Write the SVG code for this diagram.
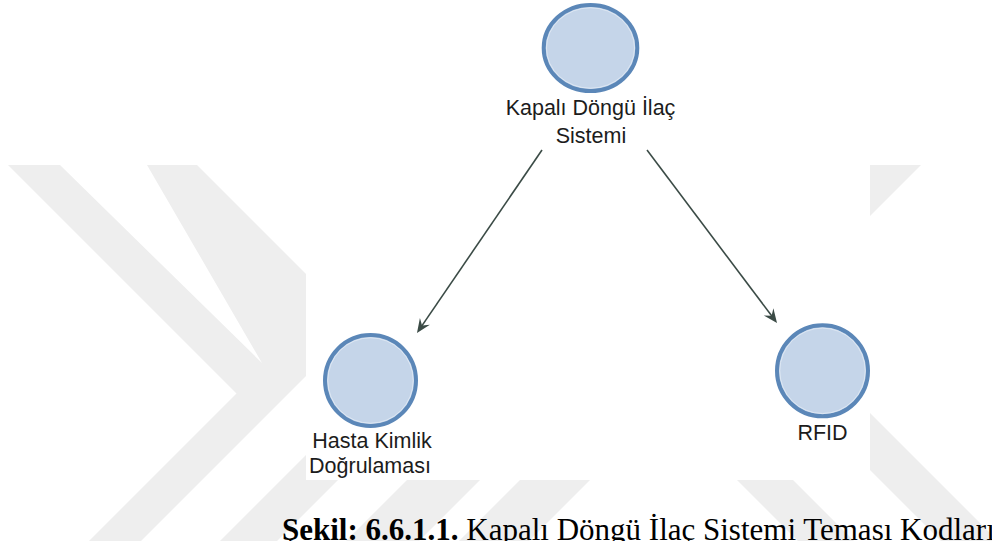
<svg xmlns="http://www.w3.org/2000/svg" width="992" height="541" viewBox="0 0 992 541">
  <defs>
    <style>
      .wm { fill: #eeeeee; }
      .node-ring { fill: #c5d5e9; stroke: #5b87b8; stroke-width: 4; }
      .node-inner { fill: none; stroke: #dde7f3; stroke-width: 1; }
      .label { font-family: "Liberation Sans", Arial, sans-serif; font-size: 21.5px; fill: #1c1c1c; text-anchor: middle; }
      .edge { stroke: #3b4b46; stroke-width: 1.6; fill: none; marker-end: url(#arrow); }
      .cap { font-family: "Liberation Serif", "Times New Roman", serif; font-size: 31px; fill: #000; }
    </style>
    <marker id="arrow" viewBox="-15 -7 16 14" refX="-8" refY="0" markerWidth="16" markerHeight="14" markerUnits="userSpaceOnUse" orient="auto">
      <path d="M0,0 L-14,-6 L-9,0 L-14,6 Z" fill="#3b4b46"/>
    </marker>
    <clipPath id="wmClip">
      <rect x="0" y="165" width="992" height="376"/>
    </clipPath>
  </defs>

  <rect x="0" y="0" width="992" height="541" fill="#ffffff"/>

  <!-- background chevron watermark -->
  <g id="watermark" clip-path="url(#wmClip)">
    <polygon class="wm" points="8,165 60,165 262,363 147,165 197,165 340,308 340,342 141,541 89,541 236.5,393.5"/>
    <polygon class="wm" points="220,541 277,541 440,378 440,321"/>
    <polygon class="wm" points="346,541 419,541 560,400 560,327"/>
    <polygon class="wm" points="459,541 529,541 660,410 660,340"/>
    <polygon class="wm" points="864,165 921,165 771.5,314.5 992,535 992,541 941,541 714.5,314.5"/>
    <polygon class="wm" points="680,423 736,423 854,541 798,541"/>
  </g>

  <!-- white drawing panel -->
  <rect x="306" y="0" width="564" height="480" fill="#ffffff"/>

  <!-- connectors -->
  <g id="edges">
    <line class="edge" x1="542" y1="150" x2="421.5" y2="326.4"/>
    <line class="edge" x1="647" y1="150" x2="772.2" y2="316.6"/>
  </g>

  <g id="node-kapali">
    <ellipse class="node-ring" cx="590.5" cy="48" rx="46.8" ry="43"/>
    <ellipse class="node-inner" cx="590.5" cy="48" rx="44" ry="40.2"/>
    <text class="label" x="590.5" y="115">Kapalı Döngü İlaç</text>
    <text class="label" x="591" y="143">Sistemi</text>
  </g>

  <g id="node-hasta">
    <circle class="node-ring" cx="370.5" cy="380.5" r="45.5"/>
    <circle class="node-inner" cx="370.5" cy="380.5" r="42.7"/>
    <text class="label" x="372" y="448">Hasta Kimlik</text>
    <text class="label" x="370" y="473">Doğrulaması</text>
  </g>

  <g id="node-rfid">
    <circle class="node-ring" cx="822.5" cy="370.8" r="45.5"/>
    <circle class="node-inner" cx="822.5" cy="370.8" r="42.7"/>
    <text class="label" x="822.5" y="440">RFID</text>
  </g>

  <!-- figure caption -->
  <text class="cap" x="282" y="540"><tspan font-weight="bold">Şekil: 6.6.1.1.</tspan> Kapalı Döngü İlaç Sistemi Teması Kodları</text>
</svg>
